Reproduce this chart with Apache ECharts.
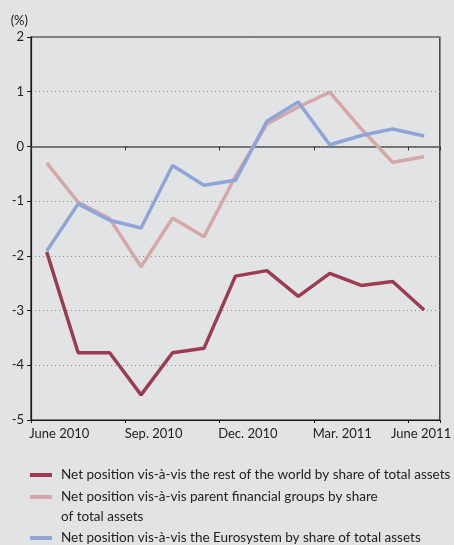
<!DOCTYPE html>
<html>
<head>
<meta charset="utf-8">
<title>Net position</title>
<style>
  html, body { margin: 0; padding: 0; background: #e2e3e5; }
  #topbar { position: absolute; left: 0; top: 0; width: 454px; height: 2px; background: #a04459; }
  #main { width: 454px; height: 545px; }
</style>
</head>
<body>
<div id="topbar"></div>
<div id="main"></div>
<script src="https://cdn.jsdelivr.net/npm/echarts@6/dist/echarts.min.js"></script>
<script type="text/javascript">
    var months = ['June 2010', 'July 2010', 'Aug. 2010', 'Sep. 2010', 'Oct. 2010', 'Nov. 2010', 'Dec. 2010',
                  'Jan. 2011', 'Feb. 2011', 'Mar. 2011', 'Apr. 2011', 'May 2011', 'June 2011'];
    // values in %
    var restOfWorld = [-1.93, -3.77, -3.77, -4.54, -3.77, -3.69, -2.37, -2.27, -2.74, -2.32, -2.54, -2.47, -2.99];
    var parentGroups = [-0.30, -1.02, -1.32, -2.20, -1.31, -1.65, -0.55, 0.41, 0.72, 0.99, 0.32, -0.29, -0.19];
    var eurosystem = [-1.91, -1.05, -1.35, -1.49, -0.35, -0.71, -0.62, 0.46, 0.81, 0.03, 0.20, 0.32, 0.19];
    var yTicks = [2, 1, 0, -1, -2, -3, -4, -5];

    var names = ['Net position vis-à-vis the rest of the world by share of total assets',
                 'Net position vis-à-vis parent financial groups by share',
                 'Net position vis-à-vis the Eurosystem by share of total assets'];
    var colors = ['#9c3b52', '#d5a7a8', '#8fa5d8'];
    var font = 'Lato';

    var myChart = echarts.init(document.getElementById('main'));

    function legendAt(i, top) {
        return {
            data: [names[i]],
            left: 30,
            top: top,
            padding: 0,
            icon: 'rect',
            itemWidth: 22,
            itemHeight: 4,
            itemGap: 0,
            textStyle: { fontFamily: font, fontSize: 13.5, color: '#222', padding: [0, 0, 0, 4] }
        };
    }

    var option = {
        backgroundColor: '#e2e3e5',
        animation: false,
        textStyle: { fontFamily: font },
        grid: {
            left: 31, right: 9, top: 37, bottom: 125,
            show: true, borderColor: '#1a1a1a', borderWidth: 1.2, backgroundColor: 'transparent'
        },
        legend: [legendAt(0, 468), legendAt(1, 490), legendAt(2, 531)],
        graphic: [{
            type: 'text', left: 61, top: 510,
            style: { text: 'of total assets', font: '13.5px ' + font, fill: '#222' }
        }],
        xAxis: [{
            type: 'category',
            data: months,
            boundaryGap: true,
            position: 'bottom',
            axisLine: { onZero: false, lineStyle: { color: '#1a1a1a', width: 1.2 } },
            axisTick: { show: true, interval: 2, length: 3, lineStyle: { color: '#1a1a1a' } },
            axisLabel: {
                interval: 2,
                margin: 7,
                color: '#222',
                fontFamily: font,
                fontSize: 13,
                formatter: function (v, idx) {
                    return idx === months.length - 1 ? '{e|' + v + '}' : '{m|' + v + '}';
                },
                rich: {
                    m: { fontFamily: font, fontSize: 13, color: '#222', padding: [0, 0, 0, 25] },
                    e: { fontFamily: font, fontSize: 13, color: '#222', padding: [0, 6, 0, 0] }
                }
            },
            splitLine: { show: false }
        }, {
            type: 'category',
            data: months,
            boundaryGap: true,
            position: 'top',
            axisLine: { onZero: true, lineStyle: { color: '#555', width: 1.5 } },
            axisTick: { show: true, inside: true, interval: 2, length: 4, lineStyle: { color: '#333' } },
            axisLabel: { show: false },
            splitLine: { show: false }
        }],
        yAxis: {
            type: 'value',
            min: -5,
            max: 2,
            interval: 1,
            name: '(%)',
            nameLocation: 'end',
            nameGap: 10,
            nameTextStyle: { fontFamily: font, fontSize: 13, color: '#222', align: 'right', padding: [0, 3, 0, 0] },
            axisLine: { show: true, lineStyle: { color: '#1a1a1a', width: 1.2 } },
            axisTick: { show: true, length: 4, lineStyle: { color: '#1a1a1a' } },
            axisLabel: {
                margin: 7, color: '#222', fontFamily: font, fontSize: 13,
                formatter: function (v) { return yTicks.indexOf(v) >= 0 ? String(v) : ''; }
            },
            splitLine: { show: true, lineStyle: { color: '#8a8a8a', type: [1, 3], width: 1 } }
        },
        series: [{
            name: names[0], type: 'line', data: restOfWorld, xAxisIndex: 0,
            symbol: 'none', color: colors[0], lineStyle: { width: 3.5, color: colors[0] }, z: 3
        }, {
            name: names[1], type: 'line', data: parentGroups, xAxisIndex: 0,
            symbol: 'none', color: colors[1], lineStyle: { width: 3.5, color: colors[1] }, z: 2
        }, {
            name: names[2], type: 'line', data: eurosystem, xAxisIndex: 0,
            symbol: 'none', color: colors[2], lineStyle: { width: 3.5, color: colors[2] }, z: 4
        }]
    };

    myChart.setOption(option);
</script>
</body>
</html>
